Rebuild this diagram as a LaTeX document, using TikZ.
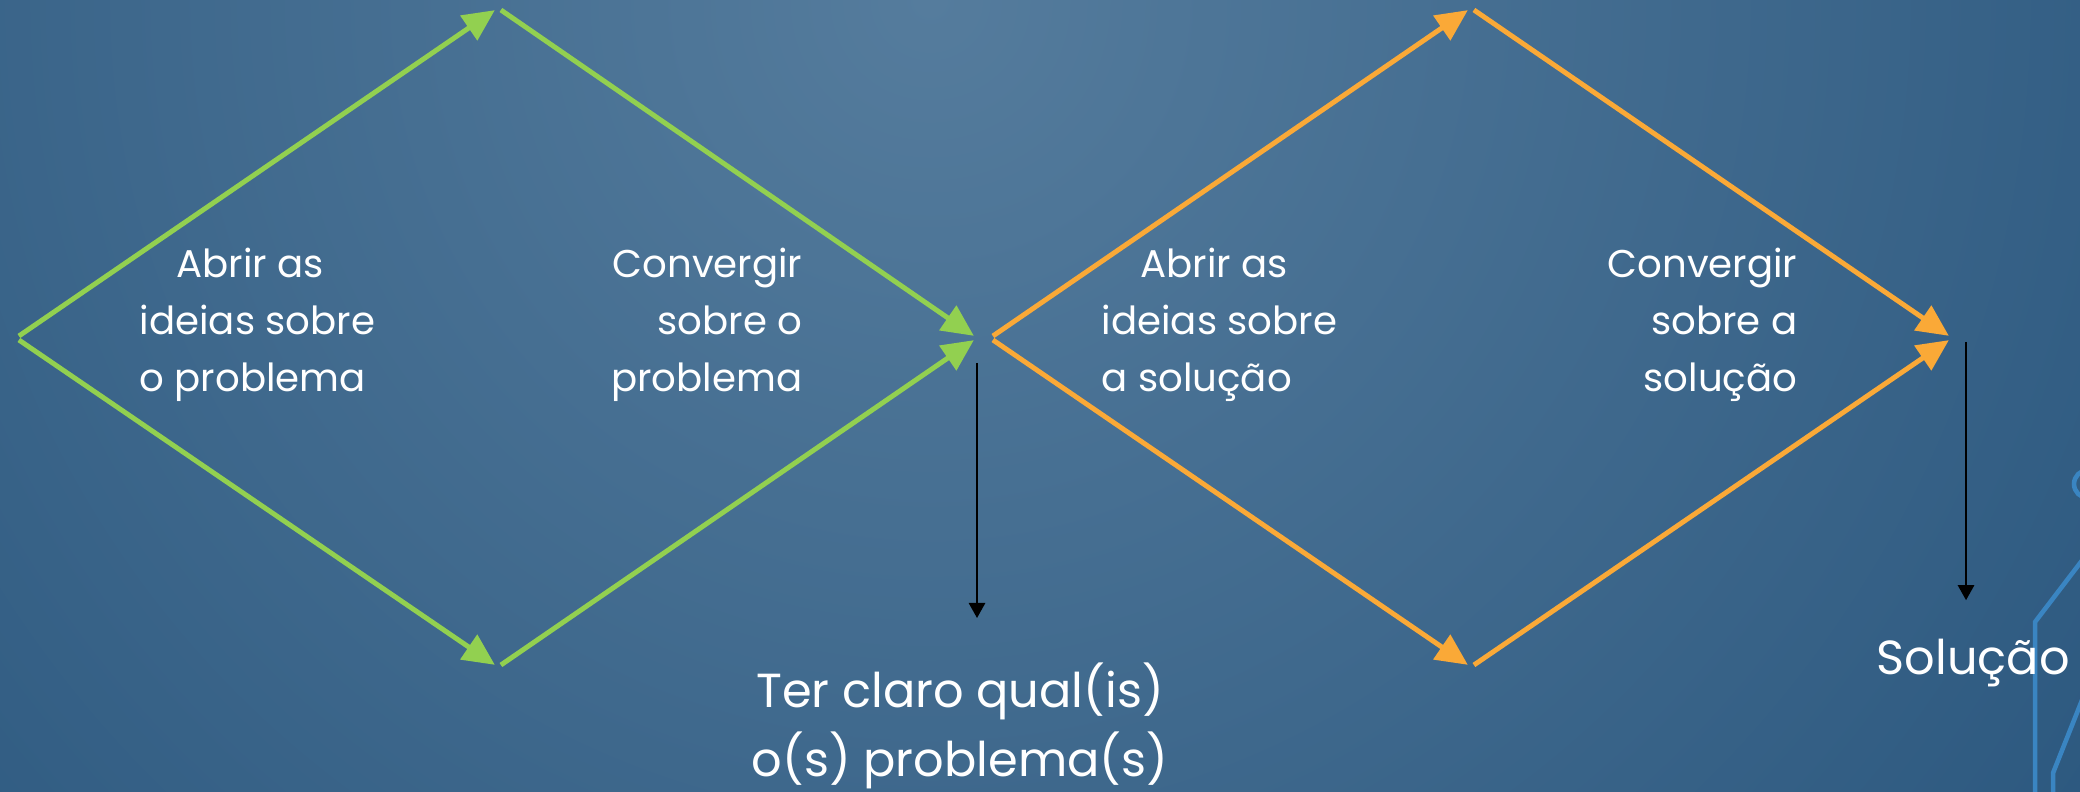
\documentclass[tikz,border=0pt]{standalone}
\usepackage{fontspec}
\setmainfont{Poppins}
\usepackage{xcolor}
\usetikzlibrary{arrows.meta,positioning,calc}
\definecolor{bgin}{HTML}{557C9D}
\definecolor{bgout}{HTML}{16456F}
\definecolor{probgreen}{HTML}{92D050}
\definecolor{solorange}{HTML}{FAA937}
\definecolor{decoblue}{HTML}{3A85C2}

\begin{document}
\begin{tikzpicture}[
    x=0.01cm, y=-0.01cm,
    % one unit = one pixel of the slide
    phase/.style={line width=1.4pt, -{Triangle[length=9pt, width=8.3pt]}, shorten <=1pt, shorten >=1.1pt},
    greenphase/.style={phase, draw=probgreen},
    orangephase/.style={phase, draw=solorange, -{Triangle[length=9pt, width=8.3pt, fill=solorange]}},
    outarrow/.style={line width=0.7pt, draw=black, -{Triangle[length=4.3pt, width=4.6pt]}},
    steptext/.style={text=white, inner sep=0pt, font=\fontsize{11}{16.2}\selectfont},
    resulttext/.style={text=white, inner sep=0pt, align=center, font=\fontsize{13.6}{19.6}\selectfont}
]
    \useasboundingbox (0,0) rectangle (2080,792);

    % --- Background ---
    \begin{scope}
        \clip (0,0) rectangle (2080,792);
        \shade[inner color=bgin, outer color=bgout] (930,0) circle (2200);
        % corner decoration
        \draw[decoblue, line width=1.3pt] (2088,484) circle (14);
        \draw[decoblue, line width=1.3pt] (2090,550) -- (2035,622) -- (2035,800);
        \draw[decoblue, line width=1.3pt] (2090,680) -- (2053,773) -- (2053,800);
    \end{scope}

    % --- Corners of the two diamonds ---
    \coordinate (d1w) at (16,338);
    \coordinate (d1n) at (498,8);
    \coordinate (d1e) at (977,338);
    \coordinate (d1s) at (498,667);
    \coordinate (d2w) at (990,338);
    \coordinate (d2n) at (1471,8);
    \coordinate (d2e) at (1952,338);
    \coordinate (d2s) at (1471,667);

    % --- Problem diamond ---
    \draw[greenphase] (d1w) -- (d1n);
    \draw[greenphase] (d1n) -- (d1e);
    \draw[greenphase] (d1w) -- (d1s);
    \draw[greenphase] (d1s) -- (d1e);

    % --- Solution diamond ---
    \draw[orangephase] (d2w) -- (d2n);
    \draw[orangephase] (d2n) -- (d2e);
    \draw[orangephase] (d2w) -- (d2s);
    \draw[orangephase] (d2s) -- (d2e);

    % --- Step labels ---
    \node[steptext, align=left, anchor=north west] (open1) at (139,247)
        {\hspace*{10.5pt}Abrir as\\ideias sobre\\o problema};
    \node[steptext, align=right, anchor=north east] (conv1) at (803,247)
        {Convergir\\sobre o\\problema};
    \node[steptext, align=left, anchor=north west] (open2) at (1101,247)
        {\hspace*{11pt}Abrir as\\ideias sobre\\a solução};
    \node[steptext, align=right, anchor=north east] (conv2) at (1798,247)
        {Convergir\\sobre a\\solução};

    % --- Results ---
    \node[resulttext, anchor=north] (prob) at (960,662)
        {Ter claro qual(is)\\o(s) problema(s)};
    \node[resulttext, anchor=base west] (sol) at (1876,675) {Solução};

    \coordinate (o1) at (977,363);
    \coordinate (o2) at (1966,342);
    \draw[outarrow, shorten >=12.5pt] (o1) -- (o1 |- prob.north);
    \draw[outarrow, shorten >=11pt] (o2) -- (o2 |- sol.north);

\end{tikzpicture}
\end{document}
